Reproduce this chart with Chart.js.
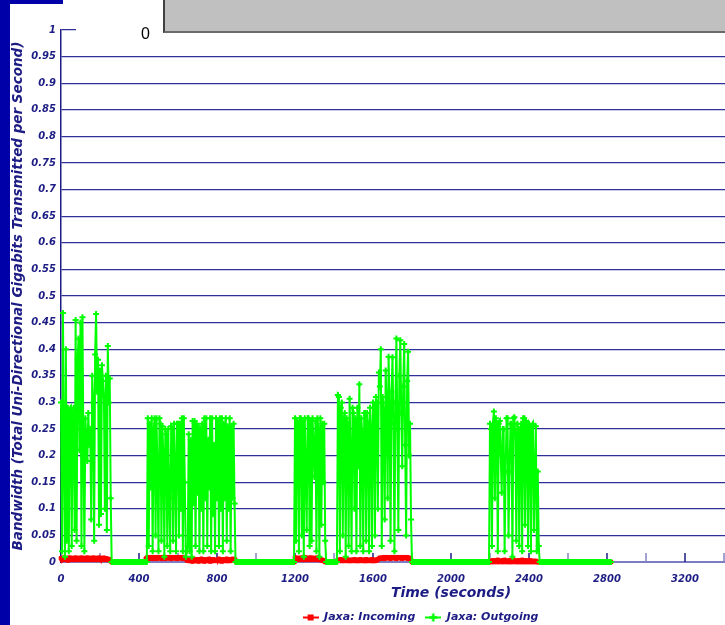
<!DOCTYPE html>
<html>
<head>
<meta charset="utf-8">
<script src="https://cdn.jsdelivr.net/npm/chart.js@4.4.1/dist/chart.umd.min.js"></script>
<style>
html, body { margin:0; padding:0; width:725px; height:625px; overflow:hidden; background:#fff; }
#wrap { position:absolute; left:0; top:0; width:850px; height:633px; }
#leftBar { position:absolute; left:0; top:0; width:10px; height:625px; background:#0000a8; }
#topBlock { position:absolute; left:0; top:0; width:63px; height:4px; background:#0000a8; }
#mask { position:absolute; left:76px; top:0; width:88px; height:42px; background:#fff; }
#zero { position:absolute; left:141px; top:25px; font:16px "Liberation Sans", Arial, sans-serif; color:#000; line-height:18px; }
#grayBox { position:absolute; left:163px; top:0; width:600px; height:31px; background:#c0c0c0; border-left:2px solid #404040; border-bottom:2px solid #6a6a6a; }
</style>
</head>
<body>
<div id="wrap"><canvas id="bwChart" width="850" height="633"></canvas></div>
<div id="mask"></div>
<div id="zero">0</div>
<div id="grayBox"></div>
<div id="leftBar"></div>
<div id="topBlock"></div>
<script>
// one sample every 5 seconds, t = 0 .. 2820
var sampleInterval = 5;

var seriesNames = ["Jaxa: Incoming", "Jaxa: Outgoing"];

var incoming = [
	0.007,0.004,0.008,0.005,0.008,0.004,0.007,0.003,0.008,0.005,0.008,0.004,0.007,0.004,0.008,0.005,0.008,0.004,0.007,0.005,
	0.008,0.004,0.008,0.005,0.007,0.004,0.008,0.005,0.008,0.004,0.007,0.005,0.008,0.004,0.008,0.005,0.007,0.004,0.008,0.005,
	0.008,0.004,0.007,0.005,0.008,0.004,0.007,0.005,0.006,0.004,0.005,0.002,0,0,0,0,0,0,0,0,
	0,0,0,0,0,0,0,0,0,0,0,0,0,0,0,0,0,0,0,0,
	0,0,0,0,0,0,0,0.006,0.008,0.009,0.006,0.008,0.007,0.009,0.006,0.008,0.007,0.009,0.006,0.008,
	0.009,0.007,0.008,0.006,0.009,0.007,0.008,0.006,0.009,0.007,0.008,0.007,0.009,0.006,0.008,0.007,0.009,0.007,0.008,0.006,
	0.009,0.007,0.008,0.007,0.009,0.006,0.008,0.007,0.008,0.003,0.006,0.002,0.005,0.002,0.004,0.001,0.006,0.002,0.004,0.002,
	0.005,0.001,0.004,0.002,0.006,0.002,0.004,0.001,0.005,0.002,0.004,0.002,0.006,0.001,0.004,0.002,0.005,0.002,0.004,0.003,
	0.004,0.002,0.006,0.002,0.004,0.001,0.005,0.003,0.004,0.002,0.006,0.002,0.005,0.002,0.004,0.003,0.006,0.004,0.005,0.003,
	0,0,0,0,0,0,0,0,0,0,0,0,0,0,0,0,0,0,0,0,
	0,0,0,0,0,0,0,0,0,0,0,0,0,0,0,0,0,0,0,0,
	0,0,0,0,0,0,0,0,0,0,0,0,0,0,0,0,0,0,0,0,
	0.008,0.004,0.008,0.006,0.007,0.004,0.008,0.005,0.008,0.004,0.009,0.006,0.007,0.004,0.008,0.005,0.008,0.004,0.008,0.006,
	0.007,0.004,0.008,0.005,0.008,0.004,0.006,0.003,0.004,0.002,0.003,0,0,0,0,0,0,0,0,0,
	0,0,0,0.002,0.004,0.002,0.004,0.005,0.002,0.004,0.002,0.004,0.003,0.005,0.002,0.004,0.002,0.004,0.002,0.004,
	0.003,0.005,0.002,0.004,0.002,0.004,0.002,0.005,0.003,0.004,0.002,0.004,0.002,0.005,0.002,0.004,0.003,0.004,0.002,0.005,
	0.002,0.004,0.002,0.004,0.003,0.005,0.006,0.008,0.006,0.008,0.007,0.009,0.006,0.008,0.008,0.009,0.007,0.008,0.006,0.009,
	0.008,0.008,0.007,0.009,0.006,0.008,0.008,0.009,0.007,0.008,0.006,0.009,0.008,0.008,0.007,0.009,0.006,0.008,0.006,0.004,
	0,0,0,0,0,0,0,0,0,0,0,0,0,0,0,0,0,0,0,0,
	0,0,0,0,0,0,0,0,0,0,0,0,0,0,0,0,0,0,0,0,
	0,0,0,0,0,0,0,0,0,0,0,0,0,0,0,0,0,0,0,0,
	0,0,0,0,0,0,0,0,0,0,0,0,0,0,0,0,0,0,0,0,
	0,0.002,0,0.003,0,0.002,0.003,0,0.004,0,0.002,0.002,0,0.003,0,0.004,0.002,0,0.002,0,
	0.003,0,0.002,0,0.004,0.002,0,0.002,0,0.003,0,0.002,0,0.004,0,0.002,0,0.003,0,0.002,
	0,0.003,0,0.002,0,0.002,0,0.002,0,0,0,0,0,0,0,0,0,0,0,0,
	0,0,0,0,0,0,0,0,0,0,0,0,0,0,0,0,0,0,0,0,
	0,0,0,0,0,0,0,0,0,0,0,0,0,0,0,0,0,0,0,0,
	0,0,0,0,0,0,0,0,0,0,0,0,0,0,0,0,0,0,0,0,
	0,0,0,0,0
];

var outgoing = [
	0.30,0.02,0.468,0.20,0.01,0.40,0.04,0.29,0.02,0.285,0.29,0.03,0.28,0.29,0.06,0.455,0.04,0.38,0.42,0.21,
	0.45,0.03,0.46,0.22,0.02,0.27,0.23,0.19,0.28,0.22,0.25,0.08,0.35,0.30,0.04,0.39,0.466,0.32,0.38,0.07,
	0.36,0.09,0.37,0.34,0.31,0.10,0.35,0.06,0.406,0.30,0.345,0.12,0,0,0,0,0,0,0,0,
	0,0,0,0,0,0,0,0,0,0,0,0,0,0,0,0,0,0,0,0,
	0,0,0,0,0,0,0,0,0,0.27,0.03,0.26,0.14,0.27,0.02,0.25,0.27,0.05,0.27,0.16,
	0.02,0.27,0.26,0.04,0.255,0.20,0.01,0.25,0.24,0.03,0.25,0.12,0.02,0.255,0.25,0.04,0.26,0.18,0.02,0.26,
	0.26,0.05,0.26,0.10,0.27,0.02,0.27,0.15,0.01,0.02,0.03,0.24,0.02,0.23,0.01,0.265,0.11,0.265,0.03,0.26,
	0.13,0.255,0.02,0.25,0.10,0.26,0.02,0.27,0.12,0.27,0.03,0.23,0.14,0.27,0.02,0.27,0.09,0.22,0.02,0.27,
	0.12,0.265,0.03,0.27,0.10,0.27,0.02,0.26,0.12,0.27,0.04,0.255,0.10,0.27,0.02,0.255,0.12,0.26,0.11,0,
	0,0,0,0,0,0,0,0,0,0,0,0,0,0,0,0,0,0,0,0,
	0,0,0,0,0,0,0,0,0,0,0,0,0,0,0,0,0,0,0,0,
	0,0,0,0,0,0,0,0,0,0,0,0,0,0,0,0,0,0,0,0,
	0.27,0.04,0.265,0.26,0.02,0.27,0.27,0.05,0.265,0.01,0.27,0.18,0.06,0.27,0.27,0.03,0.265,0.04,0.27,0.22,
	0.16,0.265,0.02,0.27,0.25,0.01,0.27,0.07,0.26,0.15,0.26,0.04,0,0,0,0,0,0,0,0,
	0,0,0,0,0.314,0.31,0.02,0.29,0.30,0.05,0.27,0.28,0.01,0.27,0.26,0.03,0.307,0.20,0.02,0.29,
	0.28,0.10,0.27,0.02,0.29,0.18,0.334,0.03,0.27,0.24,0.02,0.28,0.28,0.04,0.28,0.26,0.02,0.29,0.25,0.03,
	0.30,0.29,0.05,0.31,0.30,0.10,0.356,0.33,0.40,0.03,0.31,0.28,0.08,0.36,0.30,0.12,0.386,0.29,0.04,0.32,
	0.385,0.26,0.02,0.30,0.42,0.25,0.06,0.35,0.417,0.28,0.18,0.33,0.41,0.22,0.05,0.34,0.395,0.20,0.26,0.08,
	0,0,0,0,0,0,0,0,0,0,0,0,0,0,0,0,0,0,0,0,
	0,0,0,0,0,0,0,0,0,0,0,0,0,0,0,0,0,0,0,0,
	0,0,0,0,0,0,0,0,0,0,0,0,0,0,0,0,0,0,0,0,
	0,0,0,0,0,0,0,0,0,0,0,0,0,0,0,0,0,0,0,0,
	0.26,0.25,0.03,0.26,0.283,0.12,0.27,0.26,0.02,0.26,0.265,0.20,0.13,0.25,0.25,0.02,0.17,0.27,0.27,0.05,
	0.17,0.26,0.26,0.01,0.27,0.272,0.24,0.04,0.26,0.25,0.03,0.25,0.26,0.02,0.27,0.27,0.07,0.265,0.26,0.03,
	0.26,0.255,0.02,0.255,0.26,0.06,0.17,0.255,0.02,0.17,0.03,0,0,0,0,0,0,0,0,0,
	0,0,0,0,0,0,0,0,0,0,0,0,0,0,0,0,0,0,0,0,
	0,0,0,0,0,0,0,0,0,0,0,0,0,0,0,0,0,0,0,0,
	0,0,0,0,0,0,0,0,0,0,0,0,0,0,0,0,0,0,0,0,
	0,0,0,0,0
];

var seconds = outgoing.map(function (v, i) { return i * sampleInterval; });

var navy = '#1c1c84';
var fontFamily = "'DejaVu Sans', Verdana, sans-serif";

function toPoints(values) {
	return values.map(function (v, i) { return { x: seconds[i], y: v }; });
}

// small line+marker icons for the legend
function legendIcon(color, style) {
	var c = document.createElement('canvas');
	c.width = 16; c.height = 9;
	var g = c.getContext('2d');
	g.strokeStyle = color; g.fillStyle = color; g.lineWidth = 2;
	g.beginPath(); g.moveTo(0, 4.5); g.lineTo(16, 4.5); g.stroke();
	if (style === 'rect') {
		g.fillRect(5, 1.5, 6, 6);
	} else {
		g.lineWidth = 2.5;
		g.beginPath(); g.moveTo(8, 0.5); g.lineTo(8, 8.5); g.moveTo(4, 4.5); g.lineTo(12, 4.5); g.stroke();
	}
	return c;
}
var legendIcons = [legendIcon('#ff0000', 'rect'), legendIcon('#00ff00', 'cross')];

// short upward tick marks along the time axis
var tickMarks = {
	id: 'tickMarks',
	beforeDatasetsDraw: function (chart) {
		var xs = chart.scales.x, ys = chart.scales.y, ctx = chart.ctx;
		var base = ys.getPixelForValue(0);
		ctx.save();
		xs.ticks.forEach(function (t) {
			if (t.value === 0) return;
			var px = xs.getPixelForValue(t.value);
			ctx.strokeStyle = (t.value % 400 === 0) ? navy : '#8484c4';
			ctx.lineWidth = 1.5;
			ctx.beginPath(); ctx.moveTo(px, base); ctx.lineTo(px, base - 9); ctx.stroke();
		});
		ctx.restore();
	}
};

var ctx = document.getElementById('bwChart').getContext('2d');

var bwChart = new Chart(ctx, {
	type: 'line',
	data: {
		datasets: [
			{
				label: seriesNames[0],
				data: toPoints(incoming),
				order: 1,
				clip: 6,
				borderColor: '#ff0000',
				backgroundColor: '#ff0000',
				borderWidth: 2,
				pointStyle: 'rect',
				pointRadius: 2.5,
				pointBorderWidth: 1,
				pointBackgroundColor: '#ff0000',
				pointBorderColor: '#ff0000',
				tension: 0
			},
			{
				label: seriesNames[1],
				data: toPoints(outgoing),
				order: 0,
				clip: 6,
				borderColor: '#00ff00',
				backgroundColor: '#00ff00',
				borderWidth: 2,
				pointStyle: 'cross',
				pointRadius: 3,
				pointBorderWidth: 2,
				pointBorderColor: '#00ff00',
				tension: 0
			}
		]
	},
	options: {
		responsive: false,
		animation: false,
		layout: { padding: { left: 0, top: 30, right: 9, bottom: 0 } },
		plugins: {
			tooltip: { enabled: false },
			legend: {
				position: 'bottom',
				labels: {
					usePointStyle: true,
					pointStyleWidth: 16,
					padding: 10,
					color: navy,
					font: { family: fontFamily, size: 11, style: 'italic', weight: 'bold' },
					generateLabels: function (chart) {
						var items = Chart.defaults.plugins.legend.labels.generateLabels(chart);
						items.sort(function (a, b) { return a.datasetIndex - b.datasetIndex; });
						items.forEach(function (it) { it.pointStyle = legendIcons[it.datasetIndex]; });
						return items;
					}
				}
			}
		},
		scales: {
			x: {
				type: 'linear',
				min: 0,
				max: 4000,
				afterFit: function (scale) { scale.height = 40; },
				grid: { display: false },
				border: { display: false },
				ticks: {
					stepSize: 200,
					autoSkip: false,
					maxRotation: 0,
					padding: 3,
					color: navy,
					font: { family: fontFamily, size: 10, style: 'italic', weight: 'bold' },
					callback: function (v) { return (v % 400 === 0 && v < 4000) ? String(v) : ''; }
				},
				title: {
					display: true,
					text: 'Time (seconds)',
					color: navy,
					padding: { top: 2, bottom: 0 },
					font: { family: fontFamily, size: 14, style: 'italic', weight: 'bold' }
				}
			},
			y: {
				min: 0,
				max: 1,
				afterFit: function (scale) { scale.width = 61; },
				grid: {
					drawTicks: false,
					color: function (c) { return c.tick && c.tick.value === 0 ? '#7c7cc0' : '#30309a'; },
					lineWidth: function (c) { return c.tick && c.tick.value === 0 ? 2 : 1.3; }
				},
				border: { display: true, color: navy, width: 1.5 },
				ticks: {
					stepSize: 0.05,
					padding: 5,
					color: navy,
					font: { family: fontFamily, size: 10, style: 'italic', weight: 'bold' },
					callback: function (v) { return String(Math.round(v * 100) / 100); }
				},
				title: {
					display: true,
					text: 'Bandwidth (Total Uni-Directional Gigabits Transmitted per Second)',
					color: navy,
					padding: { top: 10, bottom: 0 },
					font: { family: fontFamily, size: 13.5, style: 'italic', weight: 'bold' }
				}
			}
		}
	},
	plugins: [tickMarks]
});
</script>
</body>
</html>
